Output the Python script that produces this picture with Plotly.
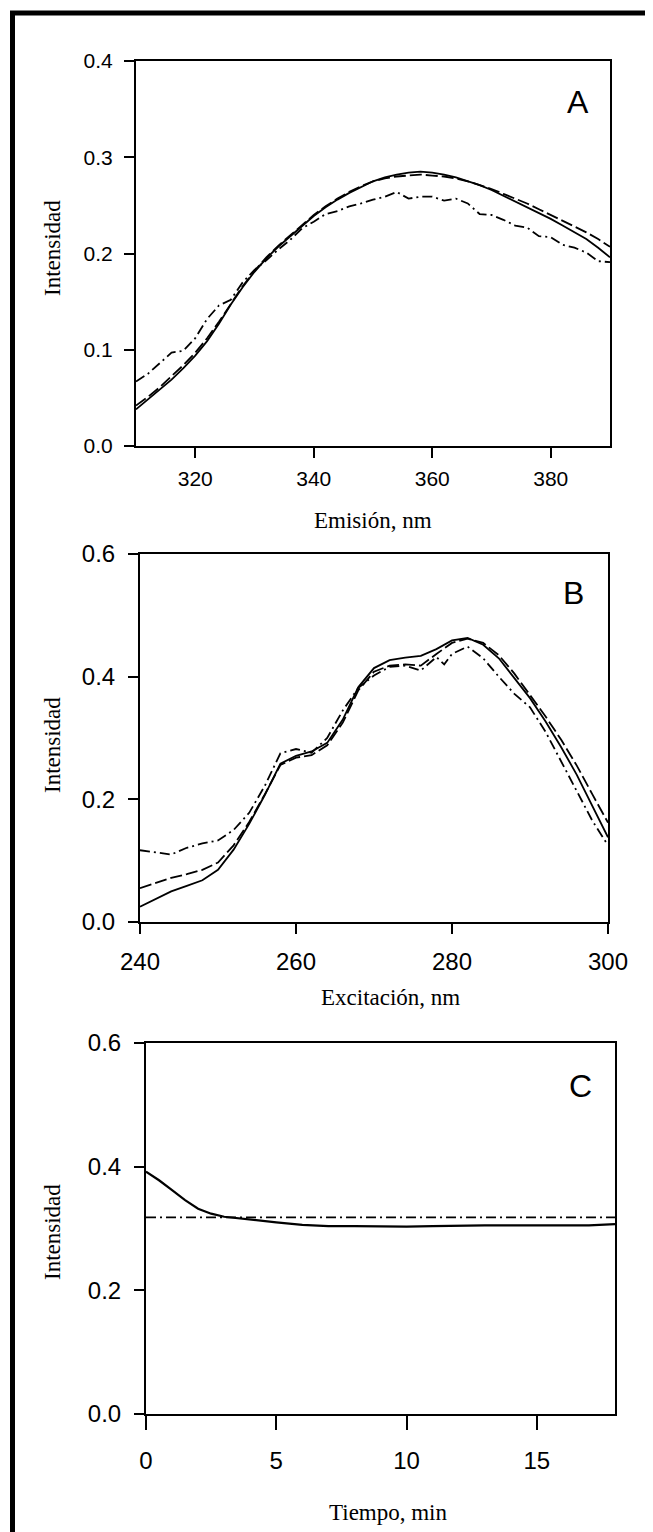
import plotly.graph_objects as go

W, H = 653, 1532
OFF = 8  # page body margin offset

# ---------------- Panel A (emission) ----------------
a_wl = [310, 312, 314, 316, 318, 320, 322, 324, 326, 328, 330, 332, 334, 336, 338, 340,
        342, 344, 346, 348, 350, 352, 354, 356, 358, 360, 362, 364, 366, 368, 370, 372,
        374, 376, 378, 380, 382, 384, 386, 388, 390]
a_solid = [0.038, 0.048, 0.058, 0.069, 0.081, 0.094, 0.109, 0.127, 0.147, 0.165, 0.181, 0.195,
           0.207, 0.218, 0.229, 0.239, 0.248, 0.256, 0.263, 0.269, 0.275, 0.279, 0.282, 0.284,
           0.285, 0.284, 0.282, 0.279, 0.275, 0.271, 0.266, 0.260, 0.254, 0.248, 0.242, 0.236,
           0.229, 0.222, 0.215, 0.206, 0.196]
a_dash = [0.042, 0.051, 0.061, 0.072, 0.084, 0.097, 0.112, 0.129, 0.148, 0.166, 0.182, 0.196,
          0.208, 0.219, 0.230, 0.240, 0.249, 0.257, 0.264, 0.270, 0.275, 0.278, 0.280, 0.281,
          0.282, 0.281, 0.280, 0.278, 0.275, 0.271, 0.267, 0.262, 0.257, 0.252, 0.246, 0.240,
          0.234, 0.228, 0.222, 0.215, 0.207]
a_dashdot = [0.067, 0.075, 0.086, 0.097, 0.099, 0.112, 0.132, 0.146, 0.152, 0.170, 0.183, 0.193,
             0.204, 0.214, 0.226, 0.233, 0.241, 0.244, 0.249, 0.252, 0.256, 0.259, 0.264, 0.257,
             0.259, 0.259, 0.255, 0.257, 0.252, 0.241, 0.240, 0.235, 0.229, 0.227, 0.218, 0.217,
             0.209, 0.206, 0.201, 0.192, 0.191]

# ---------------- Panel B (excitation) ----------------
b_wl = [240, 242, 244, 246, 248, 250, 252, 254, 256, 258, 260, 262, 264, 266, 268, 270,
        272, 274, 276, 278, 280, 282, 284, 286, 288, 290, 292, 294, 296, 298, 300]
b_solid = [0.025, 0.038, 0.050, 0.059, 0.068, 0.085, 0.118, 0.160, 0.207, 0.258, 0.271, 0.278,
           0.292, 0.330, 0.383, 0.414, 0.427, 0.431, 0.434, 0.445, 0.459, 0.463, 0.452, 0.430,
           0.398, 0.365, 0.327, 0.285, 0.240, 0.190, 0.138]
b_dash = [0.055, 0.064, 0.072, 0.078, 0.085, 0.097, 0.125, 0.163, 0.208, 0.256, 0.268, 0.272,
          0.288, 0.325, 0.378, 0.408, 0.418, 0.420, 0.418, 0.437, 0.455, 0.462, 0.455, 0.435,
          0.405, 0.370, 0.335, 0.297, 0.255, 0.208, 0.162]
b_dd_wl = [240, 242, 244, 246, 248, 250, 252, 254, 256, 258, 260, 262, 264, 266, 268, 270,
           272, 274, 276, 278, 279, 280, 282, 284, 286, 288, 290, 292, 294, 296, 298, 300]
b_dashdot = [0.117, 0.113, 0.110, 0.121, 0.128, 0.133, 0.150, 0.178, 0.222, 0.275, 0.282, 0.276,
             0.300, 0.345, 0.382, 0.402, 0.416, 0.418, 0.410, 0.432, 0.420, 0.437, 0.449, 0.430,
             0.400, 0.372, 0.350, 0.310, 0.262, 0.212, 0.165, 0.125]

# ---------------- Panel C (time) ----------------
c_t = [0, 0.5, 1, 1.5, 2, 2.5, 3, 4, 5, 6, 7, 8, 9, 10, 11, 12, 13, 14, 15, 16, 17, 18]
c_solid = [0.392, 0.378, 0.362, 0.346, 0.332, 0.324, 0.319, 0.314, 0.310, 0.306, 0.304, 0.304,
           0.303, 0.303, 0.304, 0.305, 0.305, 0.305, 0.305, 0.305, 0.305, 0.307]
c_dd_t = [0, 18]
c_dashdot = [0.318, 0.318]


def px(x):
    return (x - OFF) / W


def py(y):
    return 1 - (y - OFF) / H


DASH = "12px,4px"
DASHDOT = "10px,4px,2px,4px"
LW = 1.8

fig = go.Figure()

def add(x, y, dash, xa, ya, width=LW):
    fig.add_trace(go.Scatter(x=x, y=y, mode="lines", xaxis=xa, yaxis=ya,
                             line=dict(color="black", width=width, dash=dash),
                             showlegend=False, hoverinfo="skip"))

add(a_wl, a_solid, "solid", "x", "y")
add(a_wl, a_dash, DASH, "x", "y")
add(a_wl, a_dashdot, DASHDOT, "x", "y")

add(b_wl, b_solid, "solid", "x2", "y2")
add(b_wl, b_dash, DASH, "x2", "y2")
add(b_dd_wl, b_dashdot, DASHDOT, "x2", "y2")

add(c_t, c_solid, "solid", "x3", "y3", width=2.2)
add(c_dd_t, c_dashdot, DASHDOT, "x3", "y3")

TICKFONT = "Liberation Sans, Arial, sans-serif"
SERIF = "Liberation Serif, Times New Roman, serif"


def axis(domain, rng, tickvals, fmt, size, anchor, ticklen=10, standoff=8):
    return dict(domain=domain, range=rng, tickvals=tickvals, tickformat=fmt,
                showline=True, linecolor="black", linewidth=2, mirror=True,
                ticks="outside", ticklen=ticklen, tickwidth=2, tickcolor="black",
                showgrid=False, zeroline=False, anchor=anchor, automargin=False,
                tickfont=dict(family=TICKFONT, size=size, color="black"),
                ticklabelstandoff=standoff, fixedrange=True)


fig.update_layout(
    template="none",
    width=W, height=H, margin=dict(l=0, r=0, t=0, b=0, autoexpand=False),
    paper_bgcolor="white", plot_bgcolor="white",
    xaxis=axis([px(136), px(610)], [310, 390], [320, 340, 360, 380], "d", 21, "y", standoff=3),
    yaxis=axis([py(446), py(61)], [0, 0.4], [0, 0.1, 0.2, 0.3, 0.4], ".1f", 21, "x", standoff=7),
    xaxis2=axis([px(140), px(608)], [240, 300], [240, 260, 280, 300], "d", 24, "y2", standoff=7),
    yaxis2=axis([py(922), py(554)], [0, 0.6], [0, 0.2, 0.4, 0.6], ".1f", 24, "x2", standoff=8),
    xaxis3=axis([px(146), px(615)], [0, 18], [0, 5, 10, 15], "d", 24, "y3", ticklen=14, standoff=10),
    yaxis3=axis([py(1414), py(1043)], [0, 0.6], [0, 0.2, 0.4, 0.6], ".1f", 24, "x3", standoff=8),
)

annotations = []


def label(text, x, y, size, family, angle=0):
    annotations.append(dict(text=text, x=px(x), y=py(y), xref="paper", yref="paper",
                            showarrow=False, textangle=angle, xanchor="center", yanchor="middle",
                            font=dict(family=family, size=size, color="black")))


# Panel letters
label("A", 578, 102, 32, TICKFONT)
label("B", 573, 593, 32, TICKFONT)
label("C", 580, 1086, 32, TICKFONT)

# Axis titles
label("Emisión, nm", 373, 520, 23, SERIF)
label("Excitación, nm", 390, 998, 23, SERIF)
label("Tiempo, min", 388, 1512, 23, SERIF)
label("Intensidad", 52, 248, 23, SERIF, angle=-90)
label("Intensidad", 52, 745, 23, SERIF, angle=-90)
label("Intensidad", 52, 1232, 23, SERIF, angle=-90)

fig.update_layout(annotations=annotations)

# outer frame (left and top edges visible, rest cropped)
fig.add_shape(type="rect", xref="paper", yref="paper",
              x0=px(12.5), y0=py(13), x1=1.2, y1=-0.2,
              line=dict(color="black", width=5), fillcolor="rgba(0,0,0,0)", layer="above")

fig.write_html("out.html", config={"displayModeBar": False})
